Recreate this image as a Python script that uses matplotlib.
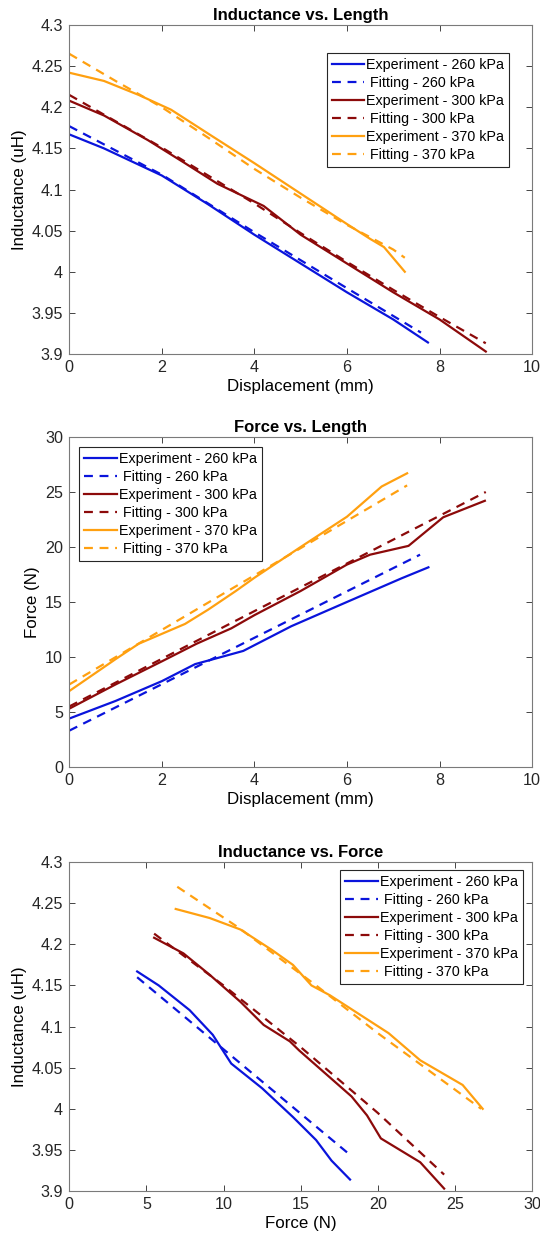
import numpy as np
import matplotlib
matplotlib.use('Agg')
import matplotlib.pyplot as plt

plt.rcParams['font.family'] = ['Liberation Sans', 'DejaVu Sans']

# --- Inductance vs. Length (displacement mm, inductance uH)
il_x_exp_260 = [0, 0.75, 2.0, 3.0, 4.0, 5.0, 6.0, 7.0, 7.75]
il_y_exp_260 = [4.167, 4.150, 4.117, 4.082, 4.045, 4.010, 3.975, 3.942, 3.914]
il_x_fit_260 = [0, 2.0, 4.0, 6.0, 7.6]
il_y_fit_260 = [4.177, 4.118, 4.048, 3.980, 3.926]
il_x_exp_300 = [0, 0.75, 1.7, 2.5, 3.2, 4.2, 5.0, 6.0, 7.0, 8.0, 9.0]
il_y_exp_300 = [4.208, 4.190, 4.160, 4.132, 4.107, 4.080, 4.045, 4.010, 3.975, 3.942, 3.903]
il_x_fit_300 = [0, 1.0, 2.0, 3.0, 4.0, 5.0, 6.0, 7.0, 8.0, 9.0]
il_y_fit_300 = [4.215, 4.183, 4.151, 4.117, 4.083, 4.047, 4.012, 3.978, 3.945, 3.913]
il_x_exp_370 = [0, 0.75, 1.5, 2.2, 3.0, 4.0, 5.0, 6.0, 6.5, 6.8, 7.25]
il_y_exp_370 = [4.242, 4.232, 4.215, 4.197, 4.168, 4.132, 4.095, 4.058, 4.040, 4.030, 4.000]
il_x_fit_370 = [0, 1.0, 2.0, 3.0, 4.0, 5.0, 6.0, 7.0, 7.25]
il_y_fit_370 = [4.265, 4.232, 4.200, 4.163, 4.125, 4.090, 4.057, 4.027, 4.017]

# --- Force vs. Length (displacement mm, force N)
fl_x_exp_260 = [0, 1.0, 2.0, 2.72, 3.2, 3.76, 4.8, 6.0, 7.18, 7.76]
fl_y_exp_260 = [4.4, 6.0, 7.8, 9.35, 9.9, 10.55, 12.8, 15.0, 17.15, 18.15]
fl_x_fit_260 = [0, 7.58]
fl_y_fit_260 = [3.3, 19.3]
fl_x_exp_300 = [0, 1.0, 2.0, 2.75, 3.5, 4.0, 5.0, 6.0, 6.5, 7.33, 8.08, 8.98]
fl_y_exp_300 = [5.3, 7.5, 9.6, 11.2, 12.6, 13.8, 16.0, 18.4, 19.3, 20.1, 22.7, 24.2]
fl_x_fit_300 = [0, 9.0]
fl_y_fit_300 = [5.5, 25.0]
fl_x_exp_370 = [0, 1.0, 1.5, 2.5, 3.0, 3.6, 4.0, 5.0, 6.0, 6.75, 7.3]
fl_y_exp_370 = [6.9, 9.8, 11.2, 13.0, 14.3, 16.0, 17.2, 20.0, 22.75, 25.5, 26.7]
fl_x_fit_370 = [0, 7.3]
fl_y_fit_370 = [7.5, 25.6]

# --- Inductance vs. Force (force N, inductance uH)
if_x_exp_260 = [4.4, 5.8, 7.8, 9.3, 10.5, 12.5, 14.5, 16.0, 17.0, 18.2]
if_y_exp_260 = [4.167, 4.150, 4.120, 4.090, 4.055, 4.025, 3.990, 3.962, 3.937, 3.914]
if_x_fit_260 = [4.4, 18.2]
if_y_fit_260 = [4.160, 3.944]
if_x_exp_300 = [5.5, 7.4, 9.1, 11.1, 12.6, 14.3, 14.9, 18.3, 19.3, 20.2, 22.75, 24.3]
if_y_exp_300 = [4.208, 4.189, 4.163, 4.130, 4.102, 4.082, 4.071, 4.015, 3.992, 3.964, 3.935, 3.903]
if_x_fit_300 = [5.5, 10.0, 15.0, 20.0, 24.3]
if_y_fit_300 = [4.213, 4.150, 4.075, 3.995, 3.920]
if_x_exp_370 = [6.9, 9.1, 11.1, 13.15, 14.5, 15.7, 16.9, 20.7, 22.75, 25.5, 26.8]
if_y_exp_370 = [4.243, 4.232, 4.218, 4.193, 4.175, 4.150, 4.138, 4.092, 4.059, 4.029, 4.000]
if_x_fit_370 = [7.0, 11.0, 16.0, 20.0, 26.7]
if_y_fit_370 = [4.270, 4.220, 4.150, 4.092, 4.000]

labels = ['Experiment - 260 kPa', ' Fitting - 260 kPa',
          'Experiment - 300 kPa', ' Fitting - 300 kPa',
          'Experiment - 370 kPa', ' Fitting - 370 kPa']
colors = ['#0a14dc', '#8c0a0a', '#ffa010']

fig = plt.figure(figsize=(5.4, 12.39), dpi=100)


def style_axes(ax, title, xlabel, ylabel, xlim, ylim, xticks, yticks, yfmt):
    ax.set_title(title, fontsize=12, fontweight='bold', pad=3.5)
    ax.set_xlabel(xlabel, fontsize=12.2, labelpad=2.5)
    ax.set_ylabel(ylabel, fontsize=12.2, labelpad=3.5)
    ax.set_xlim(xlim)
    ax.set_ylim(ylim)
    ax.set_xticks(xticks)
    ax.set_yticks(yticks)
    ax.set_yticklabels([yfmt(v) for v in yticks])
    ax.tick_params(direction='in', top=True, right=True, labelsize=11.6,
                   colors='#262626', length=4, width=0.6, pad=4.5)
    for s in ax.spines.values():
        s.set_color('#7a7a7a')
        s.set_linewidth(0.8)


def draw(ax, series, legend_loc, anchor):
    i = 0
    for (xe, ye, xf, yf), c in zip(series, colors):
        ax.plot(xe, ye, '-', color=c, lw=1.6, label=labels[i])
        ax.plot(xf, yf, '--', color=c, lw=1.6, dashes=(4, 3), label=labels[i + 1])
        i += 2
    leg = ax.legend(loc=legend_loc, bbox_to_anchor=anchor, fontsize=10.3,
                    handlelength=2.3, handletextpad=0.1, labelspacing=0.28,
                    borderpad=0.35, borderaxespad=0, fancybox=False, framealpha=1)
    leg.get_frame().set_edgecolor('#262626')
    leg.get_frame().set_linewidth(0.8)


def fmt_ind(v):
    return ('%.2f' % v).rstrip('0').rstrip('.')


# top
ax1 = fig.add_axes([0.1283, 0.7143, 0.857, 0.2655])
draw(ax1, [(il_x_exp_260, il_y_exp_260, il_x_fit_260, il_y_fit_260),
           (il_x_exp_300, il_y_exp_300, il_x_fit_300, il_y_fit_300),
           (il_x_exp_370, il_y_exp_370, il_x_fit_370, il_y_fit_370)],
     'upper right', (0.950, 0.915))
style_axes(ax1, 'Inductance vs. Length', 'Displacement (mm)', 'Inductance (uH)',
           (0, 10), (3.9, 4.3), np.arange(0, 11, 2), np.arange(3.9, 4.301, 0.05), fmt_ind)

# middle
ax2 = fig.add_axes([0.1283, 0.381, 0.857, 0.2663])
draw(ax2, [(fl_x_exp_260, fl_y_exp_260, fl_x_fit_260, fl_y_fit_260),
           (fl_x_exp_300, fl_y_exp_300, fl_x_fit_300, fl_y_fit_300),
           (fl_x_exp_370, fl_y_exp_370, fl_x_fit_370, fl_y_fit_370)],
     'upper left', (0.022, 0.971))
style_axes(ax2, 'Force vs. Length', 'Displacement (mm)', 'Force (N)',
           (0, 10), (0, 30), np.arange(0, 11, 2), np.arange(0, 31, 5), lambda v: '%d' % v)

# bottom
ax3 = fig.add_axes([0.1283, 0.0387, 0.857, 0.2655])
draw(ax3, [(if_x_exp_260, if_y_exp_260, if_x_fit_260, if_y_fit_260),
           (if_x_exp_300, if_y_exp_300, if_x_fit_300, if_y_fit_300),
           (if_x_exp_370, if_y_exp_370, if_x_fit_370, if_y_fit_370)],
     'upper right', (0.980, 0.975))
style_axes(ax3, 'Inductance vs. Force', 'Force (N)', 'Inductance (uH)',
           (0, 30), (3.9, 4.3), np.arange(0, 31, 5), np.arange(3.9, 4.301, 0.05), fmt_ind)

fig.savefig('out.png', dpi=100)
